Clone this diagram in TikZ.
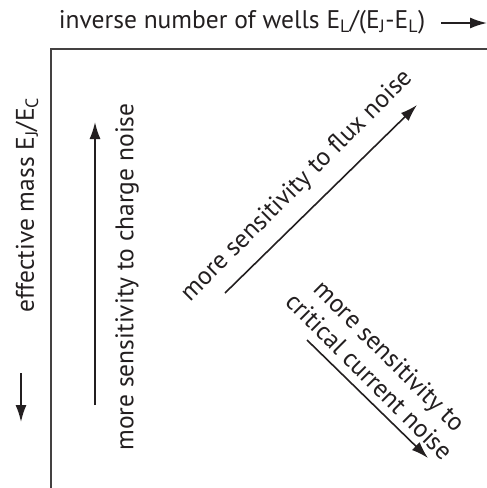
\documentclass[tikz,border=0pt]{standalone}
\usepackage{fontspec}
\setmainfont{PT Sans}
\usetikzlibrary{arrows.meta}
\definecolor{ink}{HTML}{231F20}
\begin{document}
\begin{tikzpicture}[x=1pt,y=-1pt,>={Latex[length=17pt,width=11pt]}]
    \tikzstyle{lbl}=[text=ink,font=\fontsize{25.5}{29}\selectfont,inner sep=0pt,align=center]
    \tikzstyle{axis}=[draw=ink!85,line width=2.4pt]
    \tikzstyle{arr}=[draw=ink,line width=1.6pt,->]

    \useasboundingbox (0,0) rectangle (487,488);
    \draw[axis] (51,488) -- (51,49) -- (487,49);

    \node[lbl] at (242,22) (xlabel) {inverse number of wells E\textsubscript{L}/(E\textsubscript{J}-E\textsubscript{L})};
    \node[lbl,rotate=90] at (27,205) (ylabel) {effective mass E\textsubscript{J}/E\textsubscript{C}};
    \node[lbl,rotate=90] at (127,277) (charge) {more sensitivity to charge noise};
    \node[lbl,rotate=45] at (297,186) (flux) {more sensitivity to flux noise};
    \node[lbl,rotate=-45] at (380,366) (critical) {more sensitivity to\\critical current noise};

    \coordinate (x0) at (441,23);
    \coordinate (x1) at (487,23);
    \coordinate (y0) at (21,373);
    \coordinate (y1) at (21,422);
    \coordinate (c0) at (95,405);
    \coordinate (c1) at (95,122);
    \coordinate (f0) at (225,293);
    \coordinate (f1) at (417,105);
    \coordinate (k0) at (307,340);
    \coordinate (k1) at (428,458);

    \draw[arr] (x0) -- (x1);
    \draw[arr] (y0) -- (y1);
    \draw[arr] (c0) -- (c1);
    \draw[arr] (f0) -- (f1);
    \draw[arr] (k0) -- (k1);
\end{tikzpicture}
\end{document}
